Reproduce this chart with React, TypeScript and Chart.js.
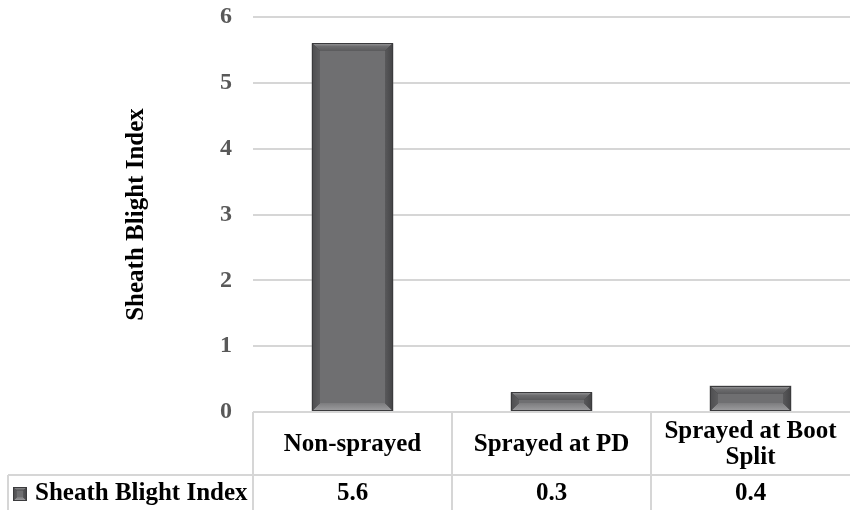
import { useEffect, useRef } from "react";
import { Chart, registerables } from "chart.js";

Chart.register(...registerables);

// Chart data
const categories = ["Non-sprayed", "Sprayed at PD", "Sprayed at Boot Split"];
const seriesName = "Sheath Blight Index";
const blightIndex = [5.6, 0.3, 0.4];
const yMin = 0;
const yMax = 6;
const yStep = 1;

const FONT = '"Liberation Serif", "Times New Roman", serif';
const LINE = "#d6d6d6";

type Pt = [number, number];

function poly(ctx: CanvasRenderingContext2D, pts: Pt[], fill: string | CanvasGradient) {
  ctx.beginPath();
  ctx.moveTo(pts[0][0], pts[0][1]);
  for (let i = 1; i < pts.length; i++) ctx.lineTo(pts[i][0], pts[i][1]);
  ctx.closePath();
  ctx.fillStyle = fill;
  ctx.fill();
}

// Bevelled box with a dark rim, four shaded edges and a flat face
function drawBevel(ctx: CanvasRenderingContext2D, l: number, t: number, r: number, b: number, bev: number) {
  ctx.save();
  ctx.fillStyle = "#3b3b3d";
  ctx.fillRect(l, t, r - l, b - t);
  const L = l + 1, T = t + 1, R = r - 1, B = b - 1;
  const bw = Math.max(1, Math.min(bev, (R - L) / 2 - 1, (B - T) / 2 - 1));
  const iL = L + bw, iT = T + bw, iR = R - bw, iB = B - bw;

  const gTop = ctx.createLinearGradient(0, T, 0, iT);
  gTop.addColorStop(0, "#909092");
  gTop.addColorStop(0.35, "#6c6c6e");
  gTop.addColorStop(1, "#5a5a5c");
  poly(ctx, [[L, T], [R, T], [iR, iT], [iL, iT]], gTop);

  const gBot = ctx.createLinearGradient(0, iB, 0, B);
  gBot.addColorStop(0, "#7c7c7e");
  gBot.addColorStop(1, "#9a9a9c");
  poly(ctx, [[L, B], [R, B], [iR, iB], [iL, iB]], gBot);

  const gLeft = ctx.createLinearGradient(L, 0, iL, 0);
  gLeft.addColorStop(0, "#505052");
  gLeft.addColorStop(1, "#5e5e60");
  poly(ctx, [[L, T], [iL, iT], [iL, iB], [L, B]], gLeft);

  const gRight = ctx.createLinearGradient(iR, 0, R, 0);
  gRight.addColorStop(0, "#59595b");
  gRight.addColorStop(1, "#464648");
  poly(ctx, [[R, T], [iR, iT], [iR, iB], [R, B]], gRight);

  ctx.fillStyle = "#6f6f71";
  ctx.fillRect(iL, iT, iR - iL, iB - iT);
  ctx.restore();
}

function wrapText(ctx: CanvasRenderingContext2D, text: string, maxW: number): string[] {
  const words = text.split(" ");
  const lines: string[] = [];
  let cur = "";
  for (const w of words) {
    const test = cur ? cur + " " + w : w;
    if (ctx.measureText(test).width > maxW && cur) {
      lines.push(cur);
      cur = w;
    } else cur = test;
  }
  if (cur) lines.push(cur);
  return lines;
}

// Re-skins each bar as a bevelled box
const bevelBars = {
  id: "bevelBars",
  afterDatasetsDraw(chart: any) {
    const ctx = chart.ctx as CanvasRenderingContext2D;
    chart.getDatasetMeta(0).data.forEach((bar: any) => {
      const { x, y, base, width } = bar.getProps(["x", "y", "base", "width"], true);
      drawBevel(ctx, Math.round(x - width / 2), Math.round(y), Math.round(x + width / 2), Math.round(base), 7);
    });
  },
};

// Data table under the plot: category row, then legend key + values row
const dataTable = {
  id: "dataTable",
  afterDraw(chart: any) {
    const ctx = chart.ctx as CanvasRenderingContext2D;
    const area = chart.chartArea;
    const xs = chart.scales.x;
    const n = categories.length;
    const colW = (area.right - area.left) / n;
    const top = area.bottom;
    const split = top + 63;
    const bottom = chart.height;
    const tableLeft = 8;

    ctx.save();
    ctx.strokeStyle = LINE;
    ctx.lineWidth = 2;
    ctx.beginPath();
    ctx.moveTo(tableLeft, split);
    ctx.lineTo(area.right, split);
    ctx.moveTo(tableLeft, split);
    ctx.lineTo(tableLeft, bottom);
    for (let i = 0; i < n; i++) {
      const xl = area.left + i * colW;
      ctx.moveTo(xl, top);
      ctx.lineTo(xl, bottom);
    }
    ctx.stroke();

    ctx.fillStyle = "#000";
    ctx.textAlign = "center";
    ctx.textBaseline = "middle";
    ctx.font = `bold 25px ${FONT}`;
    const lh = 26;
    categories.forEach((c, i) => {
      const cx = xs.getPixelForValue(i);
      const lines = wrapText(ctx, c, colW - 12);
      const cy = (top + split) / 2 + 1;
      lines.forEach((ln, k) => {
        ctx.fillText(ln, cx, cy + (k - (lines.length - 1) / 2) * lh);
      });
    });

    const vy = (split + bottom) / 2 + 1;
    blightIndex.forEach((v, i) => {
      ctx.fillText(v.toFixed(1), xs.getPixelForValue(i), vy);
    });

    // legend key
    drawBevel(ctx, 13, Math.round(vy - 7), 27, Math.round(vy + 7), 3);
    ctx.fillStyle = "#000";
    ctx.textAlign = "left";
    ctx.fillText(seriesName, 35, vy);
    ctx.restore();
  },
};

export default function App() {
  const ref = useRef<HTMLCanvasElement | null>(null);

  useEffect(() => {
    if (!ref.current) return;
    const chart = new Chart(ref.current, {
      type: "bar",
      data: {
        labels: categories,
        datasets: [
          {
            label: seriesName,
            data: blightIndex,
            backgroundColor: "#6f6f71",
            borderWidth: 0,
            categoryPercentage: 1,
            barPercentage: 0.41,
          },
        ],
      },
      options: {
        responsive: false,
        animation: false,
        devicePixelRatio: 1,
        layout: { padding: { left: 0, right: 0, top: 17, bottom: 98 } },
        plugins: { legend: { display: false }, tooltip: { enabled: false } },
        scales: {
          x: { display: false, offset: true },
          y: {
            min: yMin,
            max: yMax,
            ticks: {
              stepSize: yStep,
              padding: 21,
              color: "#595959",
              font: { family: FONT, size: 24, weight: "bold" },
            },
            grid: { color: LINE, lineWidth: 2, drawTicks: false },
            border: { display: false },
            title: {
              display: true,
              text: seriesName,
              color: "#000",
              font: { family: FONT, size: 25, weight: "bold" },
              padding: { top: 122, bottom: 0 },
            },
            afterFit: (s: any) => {
              s.width = 253;
              s.paddingTop = 0;
              s.paddingBottom = 0;
            },
          },
        },
      },
      plugins: [bevelBars, dataTable],
    });
    return () => chart.destroy();
  }, []);

  return (
    <div style={{ position: "absolute", left: 0, top: 0, width: 850, height: 510, background: "#fff" }}>
      <canvas ref={ref} width={850} height={510} />
    </div>
  );
}
